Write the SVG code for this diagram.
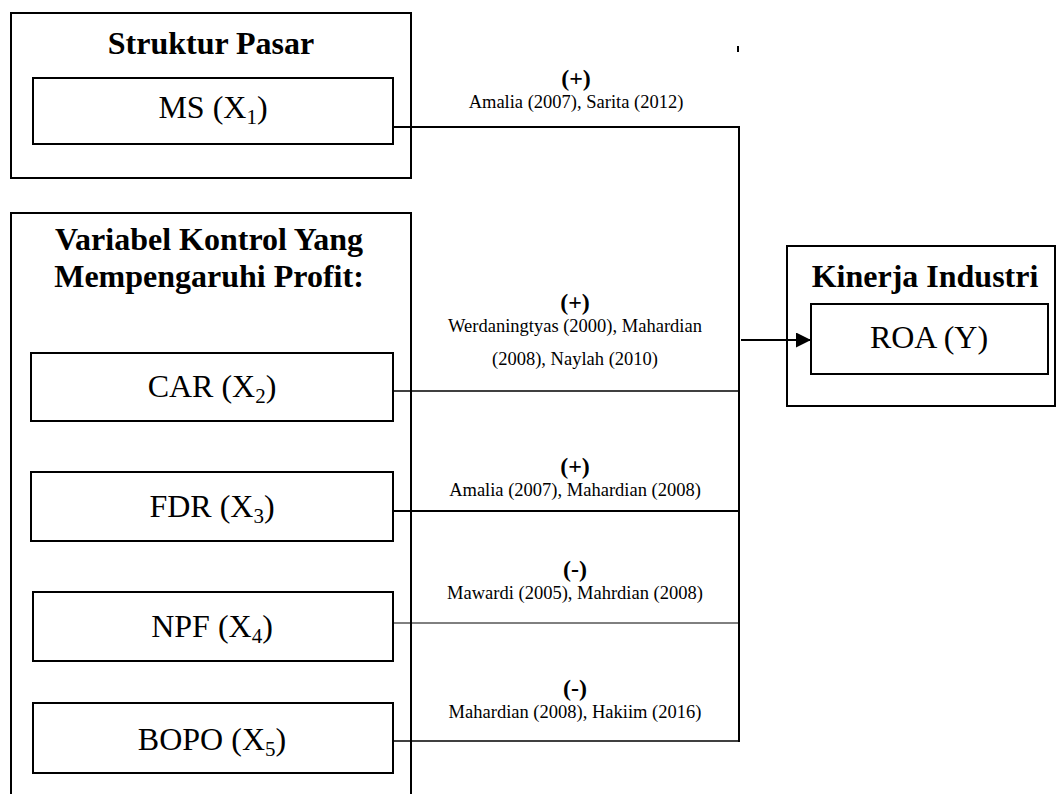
<svg xmlns="http://www.w3.org/2000/svg" width="1057" height="794" viewBox="0 0 1057 794">
<defs>
<style>
.box{fill:#fff;stroke:#000;stroke-width:2}
.title{font-family:"Liberation Serif","Times New Roman",serif;font-weight:bold;font-size:32px;text-anchor:middle;fill:#000}
.lbl{font-family:"Liberation Serif","Times New Roman",serif;font-size:32px;text-anchor:middle;fill:#000}
.sign{font-family:"Liberation Serif","Times New Roman",serif;font-weight:bold;font-size:24px;text-anchor:middle;fill:#000}
.cite{font-family:"Liberation Serif","Times New Roman",serif;font-size:18.5px;text-anchor:middle;fill:#000}
.ln{fill:none;stroke:#000}
</style>
<marker id="arr" markerWidth="15" markerHeight="15" refX="15" refY="7.5" orient="auto" markerUnits="userSpaceOnUse">
<path d="M0,0 L15,7.5 L0,15 Z" fill="#000"/>
</marker>
</defs>
<rect width="1057" height="794" fill="#fff"/>

<g id="struktur-pasar">
<rect class="box" x="11" y="13" width="400" height="165"/>
<text class="title" x="211" y="54">Struktur Pasar</text>
<rect class="box" x="33" y="78" width="360" height="66"/>
<text class="lbl" x="213" y="118">MS (X<tspan font-size="21" dy="6">1</tspan><tspan dy="-6">)</tspan></text>
</g>

<g id="variabel-kontrol">
<rect class="box" x="11" y="213" width="400" height="600"/>
<text class="title" x="209" y="250">Variabel Kontrol Yang</text>
<text class="title" x="209" y="287">Mempengaruhi Profit:</text>
</g>

<g id="car">
<rect class="box" x="31" y="353" width="362" height="68"/>
<text class="lbl" x="212" y="397">CAR (X<tspan font-size="21" dy="6">2</tspan><tspan dy="-6">)</tspan></text>
</g>
<g id="fdr">
<rect class="box" x="31" y="472" width="362" height="69"/>
<text class="lbl" x="212" y="517">FDR (X<tspan font-size="21" dy="6">3</tspan><tspan dy="-6">)</tspan></text>
</g>
<g id="npf">
<rect class="box" x="33" y="592" width="360" height="69"/>
<text class="lbl" x="212" y="637">NPF (X<tspan font-size="21" dy="6">4</tspan><tspan dy="-6">)</tspan></text>
</g>
<g id="bopo">
<rect class="box" x="33" y="703" width="360" height="70"/>
<text class="lbl" x="212" y="750">BOPO (X<tspan font-size="21" dy="6">5</tspan><tspan dy="-6">)</tspan></text>
</g>

<g id="kinerja-industri">
<rect class="box" x="787" y="246" width="268" height="160"/>
<text class="title" x="925" y="287">Kinerja Industri</text>
<rect class="box" x="811" y="304" width="237" height="70"/>
<text class="lbl" x="929" y="348">ROA (Y)</text>
</g>

<g id="connectors">
<line class="ln" x1="738" y1="46" x2="738" y2="52" stroke-width="2"/>
<line class="ln" x1="393" y1="127" x2="740" y2="127" stroke-width="2"/>
<line class="ln" x1="393" y1="391" x2="739" y2="391" stroke-width="1.3"/>
<line class="ln" x1="393" y1="511" x2="739" y2="511" stroke-width="2"/>
<line class="ln" x1="393" y1="623" x2="739" y2="623" stroke-width="1"/>
<line class="ln" x1="393" y1="741" x2="740" y2="741" stroke-width="1.3"/>
<line class="ln" x1="739" y1="126" x2="739" y2="742" stroke-width="2"/>
<line class="ln" x1="741" y1="340" x2="811" y2="340" stroke-width="2" marker-end="url(#arr)"/>
</g>

<g id="labels">
<text class="sign" x="576" y="86">(+)</text>
<text class="cite" x="576" y="108">Amalia (2007), Sarita (2012)</text>
<text class="sign" x="575" y="310">(+)</text>
<text class="cite" x="575" y="332">Werdaningtyas (2000), Mahardian</text>
<text class="cite" x="575" y="365">(2008), Naylah (2010)</text>
<text class="sign" x="575" y="474">(+)</text>
<text class="cite" x="575" y="496">Amalia (2007), Mahardian (2008)</text>
<text class="sign" x="575" y="577">(-)</text>
<text class="cite" x="575" y="599">Mawardi (2005), Mahrdian (2008)</text>
<text class="sign" x="575" y="696">(-)</text>
<text class="cite" x="575" y="718">Mahardian (2008), Hakiim (2016)</text>
</g>
</svg>
